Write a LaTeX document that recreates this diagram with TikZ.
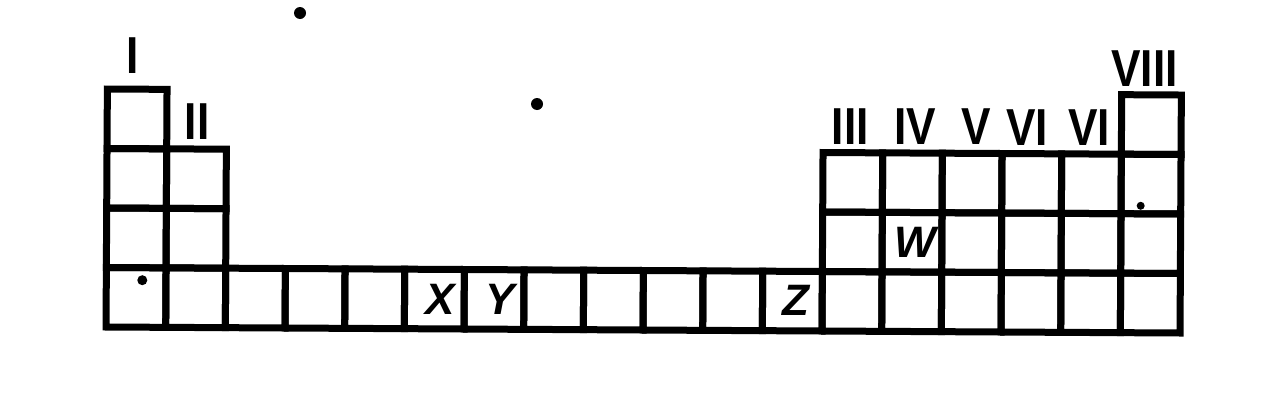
\documentclass[tikz,border=0pt]{standalone}
\usepackage{fontspec}
\setmainfont{Liberation Sans}
\begin{document}
\begin{tikzpicture}[x=1pt,y=-1pt,
  cell/.style={draw, line width=7pt, minimum width=59.67pt, minimum height=59.5pt, inner sep=0pt, outer sep=0pt, anchor=north west, transform shape},
  grp/.style={inner sep=0pt, font=\fontsize{52}{52}\selectfont\bfseries, xscale=0.85},
  lett/.style={inner sep=0pt, font=\fontsize{44}{44}\selectfont\bfseries\itshape},
  spot/.style={fill=black}]
\useasboundingbox (0,0) rectangle (1280,402);
\begin{scope}[rotate around={-0.32:(643,330)}]
% columns 1 and 18: rows 1-4
\foreach \c in {1,18} \foreach \r in {1,2,3,4}
  \node[cell] (c\c-\r) at ({106+(\c-1)*59.67},{92+(\r-1)*59.5}) {};
% columns 2 and 13-17: rows 2-4
\foreach \c in {2,13,14,15,16,17} \foreach \r in {2,3,4}
  \node[cell] (c\c-\r) at ({106+(\c-1)*59.67},{92+(\r-1)*59.5}) {};
% columns 3-12: row 4
\foreach \c in {3,...,12}
  \node[cell] (c\c-4) at ({106+(\c-1)*59.67},{92+3*59.5}) {};
% group labels
\node[grp] (gI) at (131,58) {I};
\node[grp] (gII) at (196,124) {II};
\node[grp] (gIII) at (849,125) {III};
\node[grp] (gIV) at (914,125) {IV};
\node[grp] (gV) at (975,125) {V};
\node[grp] (gVI) at (1026,125) {VI};
\node[grp] (gVII) at (1088,125) {VI};
\node[grp] (gVIII) at (1143,66) {VIII};
% element letters
\node[lett] (X) at (440,300) {X};
\node[lett] (Y) at (500,300) {Y};
\node[lett] (Z) at (796,300) {Z};
\node[lett] (W) at (915,241) {W};
% dots
\fill[spot] (142,283) circle (5);
\fill[spot] (1140,203) circle (4);
\end{scope}
\fill[spot] (300,13) circle (6);
\fill[spot] (537,104) circle (6);
\end{tikzpicture}
\end{document}
